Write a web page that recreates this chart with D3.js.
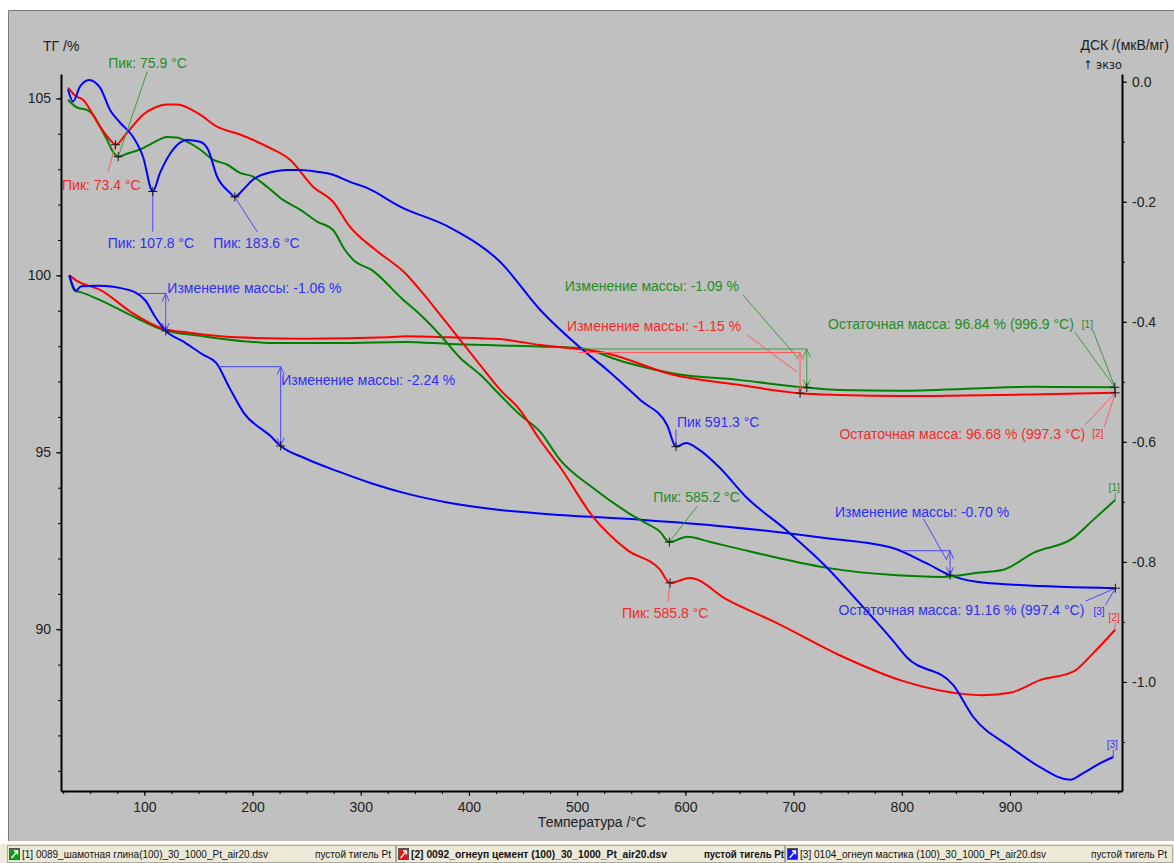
<!DOCTYPE html>
<html><head><meta charset="utf-8">
<script src="https://cdn.jsdelivr.net/npm/d3@7"></script>
<style>
body{margin:0;background:#fff}
svg{display:block}
text{font-family:"Liberation Sans",Arial,sans-serif}
</style></head>
<body><svg id="c" width="1174" height="863"></svg>
<script>
// ---------- DATA ----------
// TG curves [temperature °C, mass %]
const greenTG = [[30.7,100.0],[35.4,99.57],[41.6,99.52],[57.2,99.33],[88.4,98.86],[116.6,98.47],[154.1,98.28],[191.6,98.14],[216.6,98.09],[279.1,98.09],[341.6,98.12],[382.5,98.06],[428.7,98.02],[465.7,97.99],[502.7,97.94],[542.7,97.56],[588.9,97.23],[650.6,97.04],[712.2,96.83],[743.0,96.76],[798.5,96.74],[921.6,96.85],[996.9,96.84]];
const redTG = [[30.7,100.0],[37.0,99.86],[60.4,99.57],[88.4,98.95],[116.6,98.50],[141.6,98.38],[185.3,98.25],[247.9,98.21],[326.0,98.25],[341.6,98.28],[382.5,98.25],[428.7,98.20],[465.7,98.03],[527.4,97.80],[588.9,97.19],[650.6,96.90],[706.0,96.67],[743.0,96.62],[798.5,96.59],[930.0,96.64],[997.3,96.68]];
const blueTG = [[30.7,100.0],[37.0,99.57],[41.6,99.69],[57.2,99.71],[85.4,99.59],[91.6,99.52],[101.0,99.29],[110.4,98.81],[119.8,98.43],[135.4,98.14],[154.1,97.76],[166.6,97.52],[179.1,96.80],[191.6,96.13],[216.6,95.46],[226.0,95.18],[247.9,94.84],[279.1,94.46],[310.4,94.12],[341.6,93.84],[382.5,93.57],[428.7,93.37],[484.2,93.23],[561.2,93.09],[638.3,92.90],[730.7,92.57],[792.2,92.29],[823.1,91.86],[844.6,91.53],[869.3,91.34],[909.3,91.25],[997.4,91.16]];
// DSC curves [temperature °C, µV/mg]
const greenDSC = [[29.5,-0.030],[37.8,-0.043],[47.0,-0.047],[52.6,-0.055],[59.1,-0.075],[65.6,-0.097],[71.1,-0.117],[75.9,-0.125],[84.0,-0.120],[96.0,-0.113],[108.0,-0.102],[121.0,-0.092],[130.2,-0.093],[139.5,-0.100],[151.5,-0.113],[163.5,-0.130],[176.4,-0.138],[188.4,-0.152],[200.5,-0.158],[213.4,-0.175],[228.2,-0.197],[243.9,-0.213],[259.6,-0.233],[274.4,-0.247],[285.3,-0.280],[293.2,-0.297],[310.4,-0.314],[338.4,-0.362],[354.8,-0.388],[373.3,-0.422],[391.8,-0.460],[410.3,-0.488],[428.7,-0.522],[447.2,-0.555],[465.7,-0.583],[484.2,-0.630],[514.7,-0.677],[546.1,-0.717],[560.9,-0.733],[576.6,-0.750],[585.2,-0.767],[601.8,-0.758],[623.1,-0.767],[653.6,-0.780],[685.0,-0.793],[731.2,-0.810],[792.2,-0.822],[838.4,-0.825],[869.9,-0.818],[893.9,-0.813],[921.6,-0.785],[958.6,-0.760],[976.9,-0.730],[997.2,-0.697]];
const redDSC = [[29.5,-0.010],[35.9,-0.023],[43.3,-0.030],[59.1,-0.075],[71.1,-0.102],[73.4,-0.105],[84.0,-0.085],[98.8,-0.055],[109.9,-0.043],[121.0,-0.038],[130.2,-0.038],[151.5,-0.055],[167.2,-0.075],[188.4,-0.088],[213.4,-0.108],[234.7,-0.130],[255.9,-0.175],[274.4,-0.200],[290.1,-0.242],[313.5,-0.280],[341.6,-0.320],[354.8,-0.347],[373.3,-0.388],[391.8,-0.430],[410.3,-0.472],[428.7,-0.513],[447.2,-0.547],[465.7,-0.597],[484.2,-0.642],[514.7,-0.725],[546.1,-0.780],[576.6,-0.813],[585.8,-0.835],[604.4,-0.827],[638.5,-0.863],[684.6,-0.902],[745.6,-0.958],[798.5,-0.997],[875.2,-1.022],[900.1,-1.018],[927.8,-0.997],[958.4,-0.983],[976.9,-0.952],[997.2,-0.913]];
const blueDSC = [[29.5,-0.013],[34.1,-0.033],[40.6,-0.008],[48.9,0.003],[59.1,-0.010],[68.3,-0.047],[77.5,-0.068],[89.6,-0.092],[98.8,-0.125],[107.8,-0.183],[114.5,-0.152],[126.5,-0.113],[139.5,-0.097],[151.5,-0.100],[158.9,-0.113],[167.2,-0.158],[179.2,-0.185],[183.6,-0.192],[191.2,-0.180],[200.5,-0.163],[219.0,-0.150],[231.9,-0.147],[243.9,-0.147],[259.6,-0.150],[274.4,-0.155],[290.1,-0.167],[305.8,-0.177],[336.3,-0.208],[382.5,-0.243],[428.7,-0.300],[465.7,-0.380],[502.7,-0.443],[527.6,-0.480],[558.1,-0.530],[583.1,-0.572],[591.3,-0.608],[600.6,-0.602],[612.6,-0.613],[631.1,-0.642],[656.1,-0.692],[693.1,-0.747],[730.1,-0.808],[760.6,-0.868],[791.2,-0.930],[804.1,-0.958],[847.4,-1.005],[865.9,-1.058],[900.1,-1.108],[927.8,-1.142],[955.6,-1.163],[967.6,-1.152],[980.6,-1.138],[995.4,-1.125]];

// axis ticks
const xTicks = [100,200,300,400,500,600,700,800,900];
const tgTicks = [90,95,100,105];
const dscTicks = [0,-0.2,-0.4,-0.6,-0.8,-1.0];

// annotations (values)
const peaks = [
  {s:"green", T:75.9,  v:-0.125, text:"Пик: 75.9 °C"},
  {s:"red",   T:73.4,  v:-0.105, text:"Пик: 73.4 °C"},
  {s:"blue",  T:107.8, v:-0.183, text:"Пик: 107.8 °C"},
  {s:"blue",  T:183.6, v:-0.192, text:"Пик: 183.6 °C"},
  {s:"blue",  T:591.3, v:-0.608, text:"Пик 591.3 °C"},
  {s:"green", T:585.2, v:-0.767, text:"Пик: 585.2 °C"},
  {s:"red",   T:585.8, v:-0.835, text:"Пик: 585.8 °C"}
];
const massChanges = [
  {s:"blue",  T0:94.9,  T1:119.8, v0:99.49, v1:98.43, text:"Изменение массы: -1.06 %"},
  {s:"blue",  T0:168.3, T1:226.0, v0:97.42, v1:95.18, text:"Изменение массы: -2.24 %"},
  {s:"green", T0:502.6, T1:712.2, v0:97.92, v1:96.83, text:"Изменение массы: -1.09 %"},
  {s:"red",   T0:500.8, T1:706.0, v0:97.82, v1:96.67, text:"Изменение массы: -1.15 %"},
  {s:"blue",  T0:801.5, T1:844.6, v0:92.22, v1:91.53, text:"Изменение массы: -0.70 %"}
];
const residuals = [
  {s:"green", T:996.9, v:96.84, text:"Остаточная масса: 96.84 % (996.9 °C)", tag:"[1]"},
  {s:"red",   T:997.3, v:96.68, text:"Остаточная масса: 96.68 % (997.3 °C)", tag:"[2]"},
  {s:"blue",  T:997.4, v:91.16, text:"Остаточная масса: 91.16 % (997.4 °C)", tag:"[3]"}
];
const fileNames = [
  "[1] 0089_шамотная глина(100)_30_1000_Pt_air20.dsv",
  "[2] 0092_огнеуп цемент (100)_30_1000_Pt_air20.dsv",
  "[3] 0104_огнеуп мастика (100)_30_1000_Pt_air20.dsv"
];
const crucible = "пустой тигель Pt";

// ---------- LAYOUT / STYLE ----------
const col = {
  green:{line:"#008000", text:"#268c26", ann:"#3c9c3c"},
  red:  {line:"#ff0000", text:"#f52a2a", ann:"#ff5c5c"},
  blue: {line:"#0000ff", text:"#2f2ff5", ann:"#4848ff"}
};
const peakLayout = [
  {dx:-10, dy:-89, lx:29, ly:-85},
  {dx:-53.5, dy:45, lx:-7.5, ly:27},
  {dx:-45, dy:56, lx:0, ly:40},
  {dx:-21.5, dy:51, lx:22.5, ly:35},
  {dx:1, dy:-20, lx:0, ly:-17},
  {dx:-16, dy:-40, lx:28, ly:-36},
  {dx:-48, dy:35, lx:-2, ly:19}
];
const mcLayout = [
  {dx:1.6, dy:0, lead:null},
  {dx:0.5, dy:18.5, lead:null},
  {dx:-242, dy:-58, lead:[-64,-54,-9,9]},
  {dx:-233, dy:-21.5, lead:[-53,-17.5,-3,19.5]},
  {dx:-115, dy:-33.6, lead:[-26.7,-32,-3.3,9.4]}
];
const resLayout = [
  {tx:-41, ty:-58, gx:-33, gy:-59, l1:[-40,-55], l2:[-22,-57]},
  {tx:-30, ty:46, gx:-23, gy:44, l1:[-30,32], l2:[-11,34]},
  {tx:-31, ty:27, gx:-22, gy:27, l1:[-30,13], l2:[-10,17]}
];

const svg = d3.select("#c");
const x = d3.scaleLinear().domain([23.0,1003.5]).range([61,1122]);
const yTG = d3.scaleLinear().domain([85.43,105.69]).range([791,74]);
const yDSC = d3.scaleLinear().domain([-1.1817,0.0128]).range([791,74]);

// background panel
svg.append("rect").attr("x",0).attr("y",0).attr("width",1174).attr("height",863).attr("fill","#fff");
svg.append("rect").attr("x",8).attr("y",11).attr("width",1166).attr("height",830).attr("fill","#c0c0c0");
svg.append("path").attr("d","M8.5,841 V10.5 H1174").attr("fill","none").attr("stroke","#7a7a7a");

// ---------- AXES ----------
function styleAxis(g, fs){
  g.select(".domain").attr("stroke","#000").attr("stroke-width",2);
  g.selectAll(".tick line").attr("stroke","#000");
  g.selectAll(".tick text").attr("fill","#222").style("font-size",fs+"px").style("font-family","'Liberation Sans',Arial,sans-serif");
}
// left TG axis
const gl = svg.append("g").attr("transform","translate(61,0)");
gl.call(d3.axisLeft(yTG).tickValues(d3.range(86,106)).tickSize(3).tickSizeOuter(0).tickFormat(""));
const gl2 = svg.append("g").attr("transform","translate(61,0)");
gl2.call(d3.axisLeft(yTG).tickValues(tgTicks).tickSize(5).tickSizeOuter(0).tickPadding(5).tickFormat(d3.format("d")));
styleAxis(gl,14); styleAxis(gl2,14);
gl2.select(".domain").remove();
// right DSC axis
const gr = svg.append("g").attr("transform","translate(1122,0)");
gr.call(d3.axisRight(yDSC).tickValues(d3.range(0,12).map(i=>-i/10)).tickSize(3).tickSizeOuter(0).tickFormat(""));
const gr2 = svg.append("g").attr("transform","translate(1122,0)");
gr2.call(d3.axisRight(yDSC).tickValues(dscTicks).tickSize(5).tickSizeOuter(0).tickPadding(5).tickFormat(d=>d.toFixed(1)));
styleAxis(gr,14); styleAxis(gr2,14);
gr2.select(".domain").remove();
// bottom axis
const gb = svg.append("g").attr("transform","translate(0,791)");
gb.call(d3.axisBottom(x).tickValues(d3.range(25,1001,25)).tickSize(3).tickSizeOuter(0).tickFormat(""));
const gb2 = svg.append("g").attr("transform","translate(0,791)");
gb2.call(d3.axisBottom(x).tickValues(xTicks).tickSize(5).tickSizeOuter(0).tickPadding(6).tickFormat(d3.format("d")));
styleAxis(gb,14); styleAxis(gb2,14);
gb2.select(".domain").remove();

// axis titles
const T = (xx,yy,txt,fs,fill,anchor)=>svg.append("text").attr("x",xx).attr("y",yy).text(txt)
  .style("font-size",fs+"px").attr("fill",fill||"#222").attr("text-anchor",anchor||"start");
T(43,51,"ТГ /%",14,"#222");
T(1169,50,"ДСК /(мкВ/мг)",14,"#222","end");
T(1083,69,"↑ экзо",12,"#222").style("font-family","'DejaVu Sans',sans-serif")
  .attr("textLength",39).attr("lengthAdjust","spacingAndGlyphs");
T(592,827,"Температура /°C",14,"#222","middle");

// ---------- CURVES ----------
const lineTG = d3.line().x(d=>x(d[0])).y(d=>yTG(d[1])).curve(d3.curveMonotoneX);
const lineDSC = d3.line().x(d=>x(d[0])).y(d=>yDSC(d[1])).curve(d3.curveMonotoneX);
const curves = [
  [greenTG,"green",lineTG],[redTG,"red",lineTG],[blueTG,"blue",lineTG],
  [greenDSC,"green",lineDSC],[redDSC,"red",lineDSC],[blueDSC,"blue",lineDSC]
];
svg.append("g").selectAll("path").data(curves).join("path")
  .attr("d",d=>d[2](d[0])).attr("fill","none")
  .attr("stroke",d=>col[d[1]].line).attr("stroke-width",2).attr("stroke-linejoin","round");

// ---------- ANNOTATIONS ----------
const ann = svg.append("g");
function cross(px,py){
  ann.append("path").attr("d",`M${px-4.5},${py}H${px+4.5}M${px},${py-4.5}V${py+4.5}`)
    .attr("stroke","#1a1a1a").attr("stroke-width",1).attr("fill","none");
}
function line(x1,y1,x2,y2,c){
  ann.append("line").attr("x1",x1).attr("y1",y1).attr("x2",x2).attr("y2",y2)
    .attr("stroke",c).attr("stroke-width",1);
}
function label(px,py,txt,c,fs,anchor){
  ann.append("text").attr("x",px).attr("y",py).text(txt).attr("fill",c)
    .style("font-size",(fs||14)+"px").attr("text-anchor",anchor||"start");
}
// peaks
peaks.forEach((p,i)=>{
  const L = peakLayout[i], px = x(p.T), py = yDSC(p.v), c = col[p.s];
  line(px+L.lx, py+L.ly, px, py, c.ann);
  cross(px,py);
  label(px+L.dx, py+L.dy, p.text, c.text);
});
// mass changes
massChanges.forEach((m,i)=>{
  const L = mcLayout[i], c = col[m.s];
  const xa = x(m.T0), xb = x(m.T1), y0 = yTG(m.v0), y1 = yTG(m.v1);
  line(xa,y0,xb,y0,c.ann);
  ann.append("path").attr("d",
    `M${xb},${y0}V${y1}M${xb-3.5},${y0+8}L${xb},${y0}L${xb+3.5},${y0+8}M${xb-3.5},${y1-8}L${xb},${y1}L${xb+3.5},${y1-8}`)
    .attr("fill","none").attr("stroke",c.ann).attr("stroke-width",1);
  cross(xb,y1);
  if(L.lead) line(xb+L.lead[0],y0+L.lead[1],xb+L.lead[2],y0+L.lead[3],c.ann);
  label(xb+L.dx, y0+L.dy, m.text, c.text);
});
// residual masses
residuals.forEach((r,i)=>{
  const L = resLayout[i], c = col[r.s], px = x(r.T), py = yTG(r.v);
  line(px+L.l1[0],py+L.l1[1],px,py,c.ann);
  line(px+L.l2[0],py+L.l2[1],px,py,c.ann);
  cross(px,py);
  label(px+L.tx, py+L.ty, r.text, c.text, 14, "end");
  label(px+L.gx, py+L.gy, r.tag, c.text, 10);
});
// curve-end tags on DSC
[[greenDSC,"green","[1]"],[redDSC,"red","[2]"],[blueDSC,"blue","[3]"]].forEach(d=>{
  const e = d[0][d[0].length-1], px = x(e[0]), py = yDSC(e[1]), c = col[d[1]];
  line(px,py-7,px,py,c.ann);
  label(px-1,py-9,d[2],c.text,10,"middle");
});

// ---------- STATUS BAR ----------
const sb = svg.append("g");
sb.append("rect").attr("x",0).attr("y",844).attr("width",1174).attr("height",19).attr("fill","#ece9d8");
const panels = [[7,389],[396,389],[785,388]];
const icons = ["#1a9a1a","#ee1111","#1515ee"];
panels.forEach((p,i)=>{
  sb.append("rect").attr("x",p[0]+0.5).attr("y",845.5).attr("width",p[1]-1).attr("height",17)
    .attr("fill","#ece9d8").attr("stroke","#aca899");
  sb.append("rect").attr("x",p[0]+2.5).attr("y",848.5).attr("width",10).attr("height",11)
    .attr("fill",icons[i]).attr("stroke","#555");
  sb.append("path").attr("d",`M${p[0]+4.5},${858}L${p[0]+10.5},${851}M${p[0]+7},${851}H${p[0]+10.5}V${854.5}`)
    .attr("stroke","#fff").attr("stroke-width",1.3).attr("fill","none");
  const bold = i===1 ? "bold" : "normal";
  sb.append("text").attr("x",p[0]+15).attr("y",858).text(fileNames[i])
    .style("font-size","11px").style("font-weight",bold).attr("fill","#111")
    .attr("textLength", i===1?256:246).attr("lengthAdjust","spacingAndGlyphs");
  sb.append("text").attr("x",p[0]+p[1]-(i===2?82:81)).attr("y",858).text(crucible)
    .style("font-size","11px").style("font-weight",bold).attr("fill","#111")
    .attr("textLength", i===1?80:76).attr("lengthAdjust","spacingAndGlyphs");
});
</script>
</body></html>
